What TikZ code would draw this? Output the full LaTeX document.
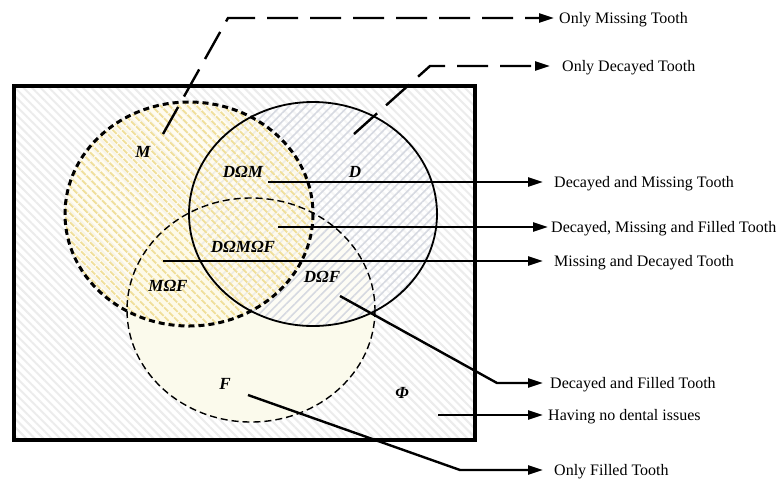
\documentclass[tikz,border=0pt]{standalone}
\usepackage{fontspec}
\setmainfont{Liberation Serif}
\usetikzlibrary{arrows.meta,patterns.meta}
\definecolor{bgline}{RGB}{236,236,236}
\definecolor{fcream}{RGB}{251,250,236}
\definecolor{dline}{RGB}{214,217,225}
\definecolor{myell}{RGB}{255,250,232}
\definecolor{mline}{RGB}{240,223,155}
\begin{document}
\begin{tikzpicture}[x=1pt,y=-1pt,
  conn/.style={line width=2.4pt,-{Triangle[length=15pt,width=9pt]}},
  dconn/.style={conn,dash pattern=on 31pt off 12pt},
  lab/.style={anchor=west,inner sep=0pt,text height=11pt,text depth=0pt,font=\fontsize{16}{18}\selectfont},
  setlab/.style={inner sep=0pt,font=\fontsize{17}{19}\selectfont\bfseries\itshape},
]
\useasboundingbox (0,0) rectangle (784,480);
% universe background
\path[fill=white] (14,86) rectangle (475,440);
\path[pattern={Lines[angle=-45,distance=6pt,line width=2pt]},pattern color=bgline] (14,86) rectangle (475,440);
% F fill
\path[fill=fcream] (251,310) ellipse [x radius=124, y radius=112];
% D fill
\path[fill=white,fill opacity=0.5] (313,214) ellipse [x radius=124, y radius=112];
\path[pattern={Lines[angle=45,distance=6pt,line width=1.6pt]},pattern color=dline] (313,214) ellipse [x radius=124, y radius=112];
% M fill
\path[fill=myell,fill opacity=0.6] (189,214) ellipse [x radius=124, y radius=112];
\path[pattern={Lines[angle=-45,distance=6.5pt,line width=2.2pt]},pattern color=mline] (189,214) ellipse [x radius=124, y radius=112];
% outlines
\draw[line width=1.4pt,dash pattern=on 7pt off 4pt] (251,310) ellipse [x radius=124, y radius=112];
\draw[line width=1.8pt] (313,214) ellipse [x radius=124, y radius=112];
\draw[line width=3pt,dash pattern=on 6pt off 4pt] (189,214) ellipse [x radius=124, y radius=112];
\draw[line width=4pt] (14,86) rectangle (475,440);
% set labels
\node[setlab] (lM) at (143,152) {M};
\node[setlab] (lDM) at (243,172) {DΩM};
\node[setlab] (lD) at (355,172) {D};
\node[setlab] (lDMF) at (243,247) {DΩMΩF};
\node[setlab] (lMF) at (168,286) {MΩF};
\node[setlab] (lDF) at (322,277) {DΩF};
\node[setlab] (lF) at (225,384) {F};
\node[setlab] (lPhi) at (402,393) {Φ};
% text labels
\node[lab] (tM) at (559,18) {Only Missing Tooth};
\node[lab] (tD) at (562,66) {Only Decayed Tooth};
\node[lab] (tDM) at (554,182) {Decayed and Missing Tooth};
\node[lab] (tDMF) at (551,227) {Decayed, Missing and Filled Tooth};
\node[lab] (tMF) at (554,261) {Missing and Decayed Tooth};
\node[lab] (tDF) at (550,383) {Decayed and Filled Tooth};
\node[lab] (tPhi) at (548,415) {Having no dental issues};
\node[lab] (tF) at (554,470) {Only Filled Tooth};
% connector start / corner points
\coordinate (sM) at (163,134);
\coordinate (cM) at (228,18);
\coordinate (sD) at (354,134);
\coordinate (cD) at (430,66);
\coordinate (sDM) at (268,182);
\coordinate (sDMF) at (278,227);
\coordinate (sMF) at (163,261);
\coordinate (sDF) at (340,296);
\coordinate (cDF) at (497,383);
\coordinate (sPhi) at (438,415);
\coordinate (sF) at (248,395);
\coordinate (cF) at (460,470);
% connectors
\draw[dconn] (sM) -- (cM) -- ([xshift=-5pt]tM.west);
\draw[dconn] (sD) -- (cD) -- ([xshift=-12pt]tD.west);
\draw[conn] (sDM) -- ([xshift=-11pt]tDM.west);
\draw[conn] (sDMF) -- ([xshift=-3pt]tDMF.west);
\draw[conn] (sMF) -- ([xshift=-11pt]tMF.west);
\draw[conn] (sDF) -- (cDF) -- ([xshift=-7pt]tDF.west);
\draw[conn] (sPhi) -- ([xshift=-5pt]tPhi.west);
\draw[conn] (sF) -- (cF) -- ([xshift=-11pt]tF.west);
\end{tikzpicture}
\end{document}
